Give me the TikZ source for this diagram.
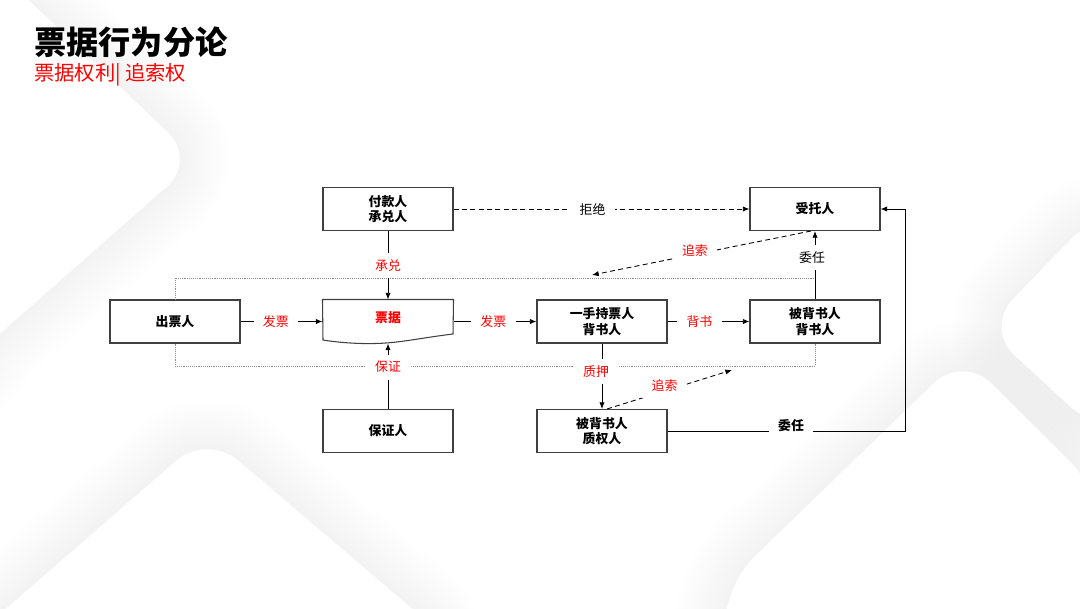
\documentclass[tikz,border=0pt]{standalone}
\usepackage{fontspec}
\setmainfont{Noto Sans CJK SC}
\usetikzlibrary{arrows.meta}

\tikzset{
	party/.style={draw=black!75, line width=0.9pt, fill=white, minimum width=39mm, minimum height=12.9mm, inner sep=0pt, align=center, font=\bfseries\fontsize{11}{13.2}\selectfont},
	act/.style={fill=white, text=red, inner xsep=2.8mm, inner ysep=2mm, font=\fontsize{11}{13}\selectfont},
	note/.style={act, text=black},
	notebf/.style={note, font=\bfseries\fontsize{11}{13}\selectfont},
	flow/.style={-{Latex[length=2mm,width=1.6mm]}, line width=0.75pt},
	backflow/.style={flow, dash pattern=on 1.5mm off 1mm},
	frame/.style={black!45, densely dotted, line width=0.6pt},
	glow/.style={line width=#1, black, opacity=.005, rounded corners=12mm, line join=round},
	slab/.style={white, rounded corners=12mm}
}

\begin{document}
\begin{tikzpicture}[x=0.3mm, y=-0.3mm]
	\fill[white] (0,0) rectangle (1080,608);
	\useasboundingbox (0,0) rectangle (1080,608);
	\foreach \w in {2.5,5,...,30} {
		\draw[glow=\w mm] (-60,-30) -- (-3,-30) -- (197,160) -- (-30,360) -- (-60,360) -- cycle;
		\draw[glow=\w mm] (-30,640) -- (207,434) -- (449,640) -- cycle;
		\draw[glow=\w mm] (1100,209) -- (985,328) -- (1100,434) -- cycle;
		\draw[glow=\w mm] (1100,492) -- (963,355) -- (725,585) -- (725,680) -- (1100,680) -- cycle;
	}
	\fill[slab] (-60,-30) -- (-3,-30) -- (197,160) -- (-30,360) -- (-60,360) -- cycle;
	\fill[slab] (-30,640) -- (207,434) -- (449,640) -- cycle;
	\fill[slab] (1100,209) -- (985,328) -- (1100,434) -- cycle;
	\fill[slab] (1100,492) -- (963,355) -- (725,585) -- (725,680) -- (1100,680) -- cycle;

	\node[anchor=west, inner sep=0pt, font=\bfseries\fontsize{27.5}{32}\selectfont] (title) at (34,42) {票据行为分论};
	\node[anchor=west, inner sep=0pt, text=red, font=\fontsize{17.3}{20}\selectfont] (subtitle) at (34,75) {票据权利| 追索权};

	\node[party] (fk) at (388,209) {付款人\\承兑人};
	\node[party] (st) at (815,209) {受托人};
	\node[party] (cp) at (175,321.5) {出票人};
	\node[party, draw=none, fill=none, text=red, text depth=2.5mm] (pj) at (388,321.5) {票据};
	\node[party] (yc) at (602,321.5) {一手持票人\\背书人};
	\node[party] (bb) at (815,321.5) {被背书人\\背书人};
	\node[party] (bz) at (388,431) {保证人};
	\node[party] (zq) at (602,431) {被背书人\\质权人};
	\draw[black!75, line width=0.9pt] (pj.north west) -- (pj.north east) -- (453,334) .. controls (420,338) and (400,343) .. (375,343.5) .. controls (355,344) and (335,342) .. (323,340) -- cycle;

	\coordinate (fr1) at (815,278);
	\coordinate (fr2) at (815,366);
	\coordinate (zs1) at (592,275);
	\coordinate (zs2) at (732,370);
	\coordinate (wt) at (905,431);

	\draw[frame] (cp.north) |- (fr1);
	\draw[frame] (cp.south) |- (fr2) -- (bb.south);

	\draw[flow] (fk) -- node[act] {承兑} (pj);
	\draw[flow] (bz) -- node[act, pos=.64] {保证} (pj);
	\draw[flow] (cp) -- node[act, pos=.43] {发票} (pj);
	\draw[flow] (pj) -- node[act, pos=.48] {发票} (yc);
	\draw[flow] (yc) -- node[act, pos=.39] {背书} (bb);
	\draw[backflow] (fk) -- node[note, pos=.47] {拒绝} (st);
	\draw[flow] (bb) -- node[note, pos=.61, xshift=-0.9mm] {委任} (st);
	\draw[flow] (yc) -- node[act, pos=.43, xshift=-1.8mm] {质押} (zq);
	\draw[backflow] ([xshift=-1.2mm]st.south) -- node[act, pos=.53, yshift=1.2mm] {追索} (zs1);
	\draw[backflow] ([xshift=1.5mm]zq.north) -- node[act, pos=.46, yshift=1.8mm] {追索} (zs2);
	\draw[flow] (zq) -- node[notebf, pos=.52, yshift=1.5mm] {委任} (wt) |- (st);
\end{tikzpicture}
\end{document}
